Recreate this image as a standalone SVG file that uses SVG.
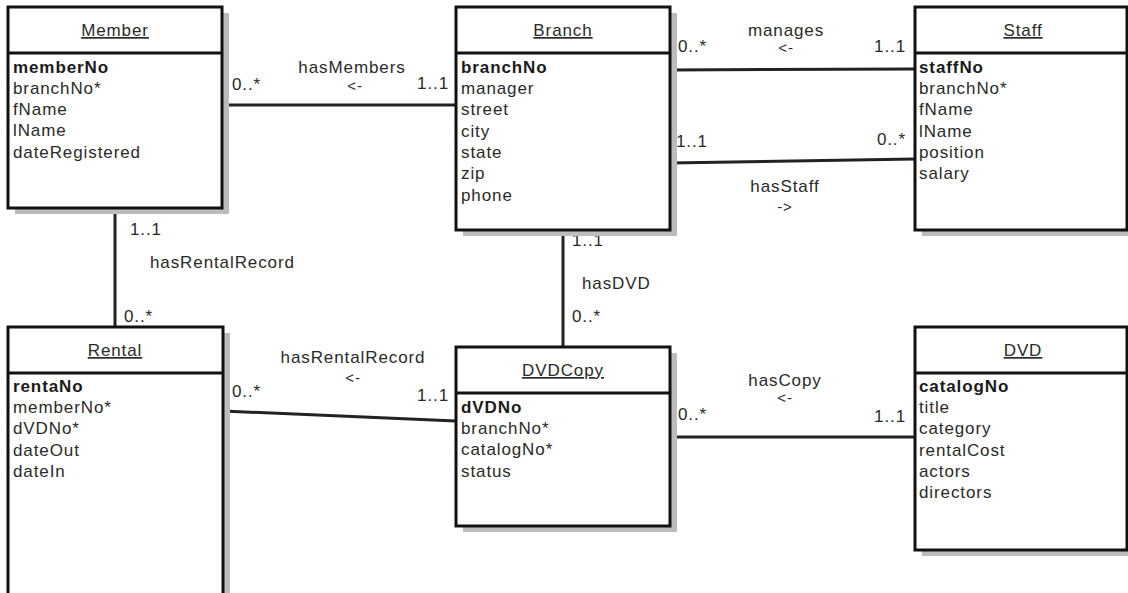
<svg xmlns="http://www.w3.org/2000/svg" width="1128" height="593" viewBox="0 0 1128 593">
<style>
text{font-family:"Liberation Sans",Arial,sans-serif;font-size:17px;letter-spacing:0.9px;fill:#2a2a2a}
.t{text-anchor:middle;text-decoration:underline}
.b{font-weight:bold;fill:#1a1a1a}
.box{fill:#fff;stroke:#111;stroke-width:3}
.sh{fill:#bcbcbc}
.sep{stroke:#111;stroke-width:3}
.c{stroke:#222;stroke-width:3;fill:none}
.a{font-size:15px;text-anchor:middle}
.m{text-anchor:middle}
.e{text-anchor:end}
</style>
<rect width="1128" height="593" fill="#fff"/>
<g id="connectors">
<line class="c" x1="222" y1="105" x2="456" y2="105"/>
<line class="c" x1="670" y1="70" x2="915" y2="69"/>
<line class="c" x1="670" y1="163" x2="915" y2="159"/>
<line class="c" x1="115" y1="208" x2="115" y2="327"/>
<line class="c" x1="223" y1="411" x2="456" y2="421"/>
<line class="c" x1="563" y1="230" x2="563" y2="347"/>
<line class="c" x1="670" y1="437" x2="915" y2="437"/>
<text x="232" y="90">0..*</text>
<text class="m" x="352" y="73">hasMembers</text>
<text class="a" x="355" y="91">&lt;-</text>
<text class="e" x="449" y="89">1..1</text>
<text x="678" y="52">0..*</text>
<text class="m" x="786" y="36">manages</text>
<text class="a" x="786" y="53">&lt;-</text>
<text class="e" x="906" y="52">1..1</text>
<text x="676" y="147">1..1</text>
<text class="e" x="906" y="145">0..*</text>
<text class="m" x="785" y="192">hasStaff</text>
<text class="a" x="785" y="212">-&gt;</text>
<text x="130" y="235">1..1</text>
<text x="150" y="268">hasRentalRecord</text>
<text x="124" y="322">0..*</text>
<text class="m" x="353" y="363">hasRentalRecord</text>
<text class="a" x="353" y="383">&lt;-</text>
<text x="232" y="397">0..*</text>
<text class="e" x="449" y="401">1..1</text>
<text x="572" y="246">1..1</text>
<text x="582" y="289">hasDVD</text>
<text x="572" y="322">0..*</text>
<text x="678" y="420">0..*</text>
<text class="m" x="785" y="386">hasCopy</text>
<text class="a" x="785" y="403">&lt;-</text>
<text class="e" x="906" y="422">1..1</text>
</g>
<g id="Member">
<rect class="sh" x="15" y="13" width="214" height="201"/>
<rect class="box" x="8" y="7" width="214" height="201"/>
<line class="sep" x1="8" y1="53" x2="222" y2="53"/>
<text class="t" x="115" y="36">Member</text>
<text class="b" x="13" y="73">memberNo</text>
<text x="13" y="94">branchNo*</text>
<text x="13" y="115">fName</text>
<text x="13" y="136">lName</text>
<text x="13" y="158">dateRegistered</text>
</g>
<g id="Branch">
<rect class="sh" x="463" y="13" width="214" height="223"/>
<rect class="box" x="456" y="7" width="214" height="223"/>
<line class="sep" x1="456" y1="53" x2="670" y2="53"/>
<text class="t" x="563" y="36">Branch</text>
<text class="b" x="461" y="73">branchNo</text>
<text x="461" y="94">manager</text>
<text x="461" y="115">street</text>
<text x="461" y="137">city</text>
<text x="461" y="158">state</text>
<text x="461" y="179">zip</text>
<text x="461" y="201">phone</text>
</g>
<g id="Staff">
<rect class="sh" x="922" y="13" width="212" height="223"/>
<rect class="box" x="915" y="7" width="212" height="223"/>
<line class="sep" x1="915" y1="53" x2="1127" y2="53"/>
<text class="t" x="1023" y="36">Staff</text>
<text class="b" x="919" y="73">staffNo</text>
<text x="919" y="94">branchNo*</text>
<text x="919" y="115">fName</text>
<text x="919" y="137">lName</text>
<text x="919" y="158">position</text>
<text x="919" y="179">salary</text>
</g>
<g id="Rental">
<rect class="sh" x="15" y="333" width="215" height="270"/>
<rect class="box" x="8" y="327" width="215" height="270"/>
<line class="sep" x1="8" y1="373" x2="223" y2="373"/>
<text class="t" x="115" y="356">Rental</text>
<text class="b" x="13" y="392">rentaNo</text>
<text x="13" y="413">memberNo*</text>
<text x="13" y="434">dVDNo*</text>
<text x="13" y="456">dateOut</text>
<text x="13" y="477">dateIn</text>
</g>
<g id="DVDCopy">
<rect class="sh" x="463" y="353" width="214" height="179"/>
<rect class="box" x="456" y="347" width="214" height="179"/>
<line class="sep" x1="456" y1="393" x2="670" y2="393"/>
<text class="t" x="563" y="376">DVDCopy</text>
<text class="b" x="461" y="413">dVDNo</text>
<text x="461" y="434">branchNo*</text>
<text x="461" y="455">catalogNo*</text>
<text x="461" y="477">status</text>
</g>
<g id="DVD">
<rect class="sh" x="922" y="333" width="212" height="223"/>
<rect class="box" x="915" y="327" width="212" height="223"/>
<line class="sep" x1="915" y1="373" x2="1127" y2="373"/>
<text class="t" x="1023" y="356">DVD</text>
<text class="b" x="919" y="392">catalogNo</text>
<text x="919" y="413">title</text>
<text x="919" y="434">category</text>
<text x="919" y="456">rentalCost</text>
<text x="919" y="477">actors</text>
<text x="919" y="498">directors</text>
</g>
</svg>
